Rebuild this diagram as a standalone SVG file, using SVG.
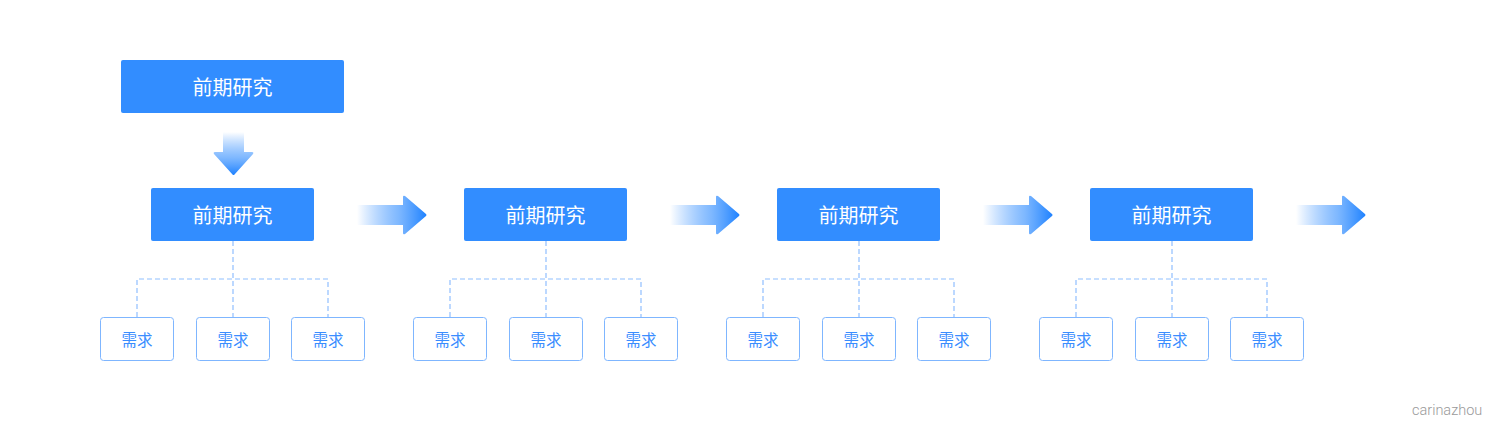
<svg xmlns="http://www.w3.org/2000/svg" width="1492" height="421" viewBox="0 0 1492 421">
<defs>
<style>
.main{fill:#328dff;}
.mt{fill:#ffffff;font-family:"Noto Sans CJK SC","Noto Sans",sans-serif;font-size:20px;text-anchor:middle;dominant-baseline:central;}
.sub{fill:#ffffff;stroke:#7fb6ff;stroke-width:1;}
.st{fill:#3a8dff;font-family:"Noto Sans CJK SC","Noto Sans",sans-serif;font-size:15.5px;text-anchor:middle;dominant-baseline:central;}
.dash{fill:none;stroke:#90bfff;stroke-width:1.2;stroke-dasharray:5 3;}
.wm{fill:#9a9a9a;font-family:"Roboto","Liberation Sans",sans-serif;font-size:14.5px;font-weight:300;}
</style>
<linearGradient id="gr" x1="0" y1="0" x2="1" y2="0">
<stop offset="0" stop-color="#328dff" stop-opacity="0"/>
<stop offset="0.6" stop-color="#5ea6ff" stop-opacity="0.8"/>
<stop offset="1" stop-color="#1f82ff" stop-opacity="1"/>
</linearGradient>
<linearGradient id="gd" x1="0" y1="0" x2="0" y2="1">
<stop offset="0" stop-color="#328dff" stop-opacity="0"/>
<stop offset="0.6" stop-color="#5ea6ff" stop-opacity="0.8"/>
<stop offset="1" stop-color="#1f82ff" stop-opacity="1"/>
</linearGradient>
<path id="ra" d="M0,-10 H46 V-18 Q46,-20 48,-19 L69,-1 Q70,0 69,1 L48,19 Q46,20 46,18 V10 H0 Z" fill="url(#gr)"/>
</defs>

<g id="top">
<rect class="main" x="121" y="60" width="223" height="53" rx="2"/>
<text class="mt" x="232.5" y="86.5">前期研究</text>
</g>

<g id="down-arrow">
<path d="M223,132 H244 V152 H252 Q254,152 253,154 L234.5,174.5 Q233.5,175.5 232.5,174.5 L214,154 Q213,152 215,152 H223 Z" fill="url(#gd)"/>
</g>

<g id="connectors">
<path class="dash" d="M233,241 V317 M137,317 V279 H328 V317"/>
<path class="dash" d="M546,241 V317 M450,317 V279 H641 V317"/>
<path class="dash" d="M859,241 V317 M763,317 V279 H954 V317"/>
<path class="dash" d="M1172,241 V317 M1076,317 V279 H1267 V317"/>
</g>

<g id="arrows">
<use href="#ra" x="357" y="215"/>
<use href="#ra" x="670" y="215"/>
<use href="#ra" x="983" y="215"/>
<use href="#ra" x="1296" y="215"/>
</g>

<g id="stage1">
<rect class="main" x="151" y="188" width="163" height="53" rx="2"/>
<text class="mt" x="232.5" y="214.5">前期研究</text>
</g>
<g id="stage2">
<rect class="main" x="464" y="188" width="163" height="53" rx="2"/>
<text class="mt" x="545.5" y="214.5">前期研究</text>
</g>
<g id="stage3">
<rect class="main" x="777" y="188" width="163" height="53" rx="2"/>
<text class="mt" x="858.5" y="214.5">前期研究</text>
</g>
<g id="stage4">
<rect class="main" x="1090" y="188" width="163" height="53" rx="2"/>
<text class="mt" x="1171.5" y="214.5">前期研究</text>
</g>

<g id="req1a"><rect class="sub" x="100.5" y="317.5" width="73" height="43" rx="3"/><text class="st" x="137" y="339">需求</text></g>
<g id="req1b"><rect class="sub" x="196.5" y="317.5" width="73" height="43" rx="3"/><text class="st" x="233" y="339">需求</text></g>
<g id="req1c"><rect class="sub" x="291.5" y="317.5" width="73" height="43" rx="3"/><text class="st" x="328" y="339">需求</text></g>

<g id="req2a"><rect class="sub" x="413.5" y="317.5" width="73" height="43" rx="3"/><text class="st" x="450" y="339">需求</text></g>
<g id="req2b"><rect class="sub" x="509.5" y="317.5" width="73" height="43" rx="3"/><text class="st" x="546" y="339">需求</text></g>
<g id="req2c"><rect class="sub" x="604.5" y="317.5" width="73" height="43" rx="3"/><text class="st" x="641" y="339">需求</text></g>

<g id="req3a"><rect class="sub" x="726.5" y="317.5" width="73" height="43" rx="3"/><text class="st" x="763" y="339">需求</text></g>
<g id="req3b"><rect class="sub" x="822.5" y="317.5" width="73" height="43" rx="3"/><text class="st" x="859" y="339">需求</text></g>
<g id="req3c"><rect class="sub" x="917.5" y="317.5" width="73" height="43" rx="3"/><text class="st" x="954" y="339">需求</text></g>

<g id="req4a"><rect class="sub" x="1039.5" y="317.5" width="73" height="43" rx="3"/><text class="st" x="1076" y="339">需求</text></g>
<g id="req4b"><rect class="sub" x="1135.5" y="317.5" width="73" height="43" rx="3"/><text class="st" x="1172" y="339">需求</text></g>
<g id="req4c"><rect class="sub" x="1230.5" y="317.5" width="73" height="43" rx="3"/><text class="st" x="1267" y="339">需求</text></g>

<text class="wm" x="1412" y="414.5">carinazhou</text>
</svg>
